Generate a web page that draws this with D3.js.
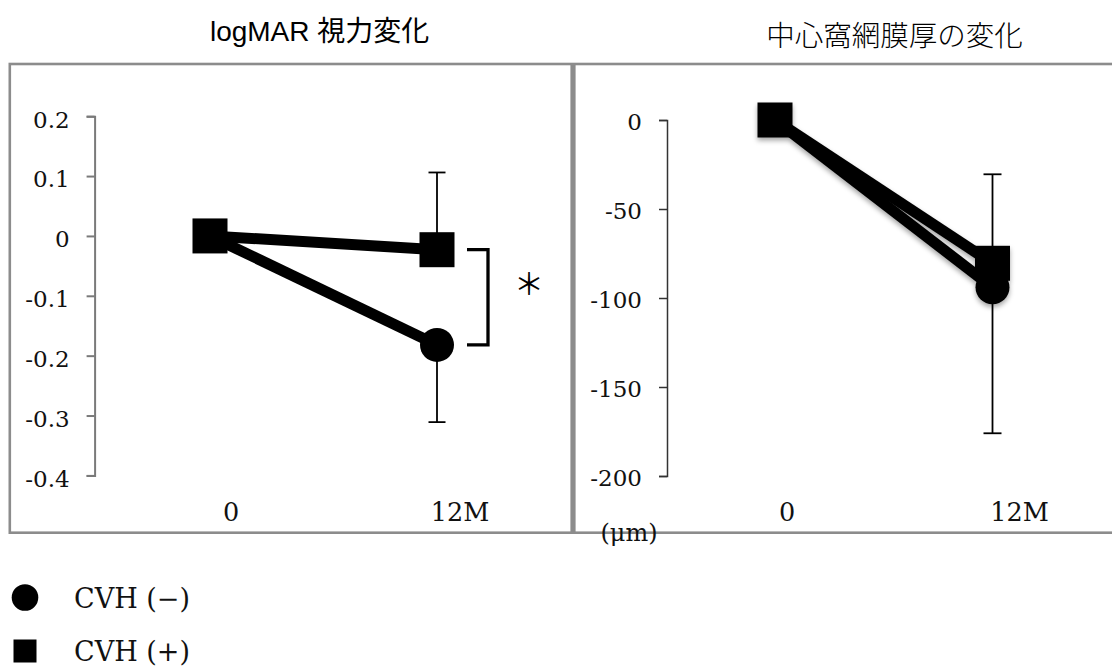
<!DOCTYPE html>
<html>
<head>
<meta charset="utf-8">
<script src="https://cdn.jsdelivr.net/npm/d3@7"></script>
<style>
    body { margin: 0; background: #fff; }
    svg { display: block; }
</style>
</head>
<body>
<svg id="chart"></svg>
<script>

// time points
var timeLabels = ["0", "12M"];

// logMAR change (left panel)
var vaTicks = [0.2, 0.1, 0, -0.1, -0.2, -0.3, -0.4];
var vaNoCVH = [0, -0.182];     // CVH (-) circle
var vaCVH = [0, -0.023];       // CVH (+) square
var vaNoCVHsd = [0, 0.129];    // lower bar
var vaCVHsd = [0, 0.129];      // upper bar

// central retinal thickness change (right panel)
var crtTicks = [0, -50, -100, -150, -200];
var crtNoCVH = [0, -94];
var crtCVH = [0, -80.5];
var crtNoCVHsd = [0, 82];
var crtCVHsd = [0, 50];

var legendLabels = ["CVH (\u2212)", "CVH (+)"];

var width = 1112,
    height = 666;

var svg = d3.select("#chart")
    .attr("width", width)
    .attr("height", height);

var defs = svg.append("defs");
var shadow = defs.append("filter").attr("id", "shadow")
    .attr("x", "-30%").attr("y", "-30%").attr("width", "160%").attr("height", "160%");
shadow.append("feDropShadow")
    .attr("dx", 0).attr("dy", 3)
    .attr("stdDeviation", 2.5)
    .attr("flood-color", "#000")
    .attr("flood-opacity", 0.35);

// panel frames
svg.append("rect")
    .attr("x", 9.8).attr("y", 64)
    .attr("width", 561.9).attr("height", 468.7)
    .attr("fill", "none")
    .attr("stroke", "#8c8c8c")
    .attr("stroke-width", 2.6);

svg.append("rect")
    .attr("x", 574.3).attr("y", 64)
    .attr("width", 560).attr("height", 468.7)
    .attr("fill", "none")
    .attr("stroke", "#8c8c8c")
    .attr("stroke-width", 2.6);

// titles
svg.append("text")
    .attr("x", 319.6).attr("y", 41)
    .attr("text-anchor", "middle")
    .style("font-family", "'Liberation Sans', 'Noto Sans CJK JP', sans-serif")
    .style("font-size", "28px")
    .text("logMAR 視力変化");

svg.append("text")
    .attr("x", 894.6).attr("y", 46)
    .attr("text-anchor", "middle")
    .style("font-family", "'Noto Sans CJK JP', sans-serif")
    .style("font-weight", 300)
    .style("font-size", "28.5px")
    .text("中心窩網膜厚の変化");

function drawPanel(opt) {
    var g = svg.append("g");

    var x = d3.scalePoint().domain(timeLabels).range(opt.xRange);
    var y = d3.scaleLinear().domain(opt.yDomain).range(opt.yRange);

    // y axis
    var axis = g.append("g")
        .attr("transform", "translate(" + opt.axisX + ",0)")
        .call(d3.axisLeft(y)
            .tickValues(opt.ticks)
            .tickSize(8)
            .tickPadding(17)
            .tickFormat(function (d) { return String(d); }));
    axis.attr("font-family", null).attr("font-size", null);
    axis.select(".domain").attr("stroke", opt.axisColor).attr("stroke-width", opt.axisWidth);
    axis.selectAll(".tick line").attr("stroke", opt.axisColor).attr("stroke-width", opt.axisWidth);
    axis.selectAll(".tick text")
        .attr("dy", opt.labelDy)
        .attr("fill", "#111")
        .style("font-family", "'DejaVu Serif', serif")
        .style("font-size", "23px");

    // x labels (no axis line)
    g.selectAll(".xlab")
        .data(timeLabels)
        .enter().append("text")
        .attr("class", "xlab")
        .attr("x", function (d, i) { return x(d) + opt.xLabelShift[i]; })
        .attr("y", 521)
        .attr("text-anchor", "middle")
        .style("font-family", "'DejaVu Serif', serif")
        .style("font-size", "25.5px")
        .attr("fill", "#111")
        .text(function (d) { return d; });

    var marks = g.append("g");
    if (opt.shadow) marks.attr("filter", "url(#shadow)");

    var line = d3.line()
        .x(function (d, i) { return x(timeLabels[i]); })
        .y(function (d) { return y(d); });

    // error bars: CVH(+) up, CVH(-) down
    var bars = [
        {v: opt.sq, sd: opt.sqSd, dir: 1},
        {v: opt.ci, sd: opt.ciSd, dir: -1}
    ];
    bars.forEach(function (b) {
        b.v.forEach(function (v, i) {
            if (!b.sd[i]) return;
            var xx = x(timeLabels[i]);
            var yEnd = y(v + b.dir * b.sd[i]);
            g.append("line")
                .attr("x1", xx).attr("x2", xx)
                .attr("y1", y(v)).attr("y2", yEnd)
                .attr("stroke", "#000").attr("stroke-width", 1.8);
            g.append("line")
                .attr("x1", xx - opt.cap).attr("x2", xx + opt.cap)
                .attr("y1", yEnd).attr("y2", yEnd)
                .attr("stroke", "#000").attr("stroke-width", 1.8);
        });
    });

    // lines
    marks.append("path").datum(opt.ci)
        .attr("d", line)
        .attr("fill", "none").attr("stroke", "#000").attr("stroke-width", 11);
    marks.append("path").datum(opt.sq)
        .attr("d", line)
        .attr("fill", "none").attr("stroke", "#000").attr("stroke-width", 11);

    // markers
    marks.selectAll(".dot")
        .data(opt.ci)
        .enter().append("circle")
        .attr("cx", function (d, i) { return x(timeLabels[i]); })
        .attr("cy", function (d) { return y(d); })
        .attr("r", 17)
        .attr("fill", "#000");

    marks.selectAll(".sq")
        .data(opt.sq)
        .enter().append("rect")
        .attr("x", function (d, i) { return x(timeLabels[i]) - 17.5; })
        .attr("y", function (d) { return y(d) - 17.5; })
        .attr("width", 35).attr("height", 35)
        .attr("fill", "#000");

    return {x: x, y: y, g: g};
}

var left = drawPanel({
    xRange: [210, 437],
    yDomain: [0.2, -0.4],
    yRange: [116.2, 475.4],
    axisX: 94.6,
    ticks: vaTicks,
    axisColor: "#7a7a7a",
    axisWidth: 2,
    labelDy: "0.47em",
    xLabelShift: [21, 23],
    sq: vaCVH, sqSd: vaCVHsd,
    ci: vaNoCVH, ciSd: vaNoCVHsd,
    cap: 8.5,
    shadow: false
});

var right = drawPanel({
    xRange: [775, 992.5],
    yDomain: [0, -200],
    yRange: [120, 476],
    axisX: 667,
    ticks: crtTicks,
    axisColor: "#333",
    axisWidth: 1.5,
    labelDy: "0.4em",
    xLabelShift: [12, 27],
    sq: crtCVH, sqSd: crtCVHsd,
    ci: crtNoCVH, ciSd: crtNoCVHsd,
    cap: 9,
    shadow: true
});

// significance bracket between the 12M points
var bx = left.x("12M");
var by1 = left.y(vaCVH[1]), by2 = left.y(vaNoCVH[1]);
left.g.append("path")
    .attr("d", "M" + (bx + 30) + "," + by1 + "H" + (bx + 51) + "V" + by2 + "H" + (bx + 30))
    .attr("fill", "none")
    .attr("stroke", "#000")
    .attr("stroke-width", 3.3);

left.g.append("text")
    .attr("x", bx + 92).attr("y", (by1 + by2) / 2 - 15)
    .attr("text-anchor", "middle")
    .attr("dominant-baseline", "central")
    .style("font-family", "'Noto Sans CJK JP', sans-serif")
    .style("font-size", "30px")
    .text("＊");

// unit label
svg.append("text")
    .attr("x", 629).attr("y", 541)
    .attr("text-anchor", "middle")
    .style("font-family", "'DejaVu Serif', serif")
    .style("font-size", "24px")
    .attr("fill", "#111")
    .text("(μm)");

// legend
var legend = svg.append("g");
legend.append("circle")
    .attr("cx", 25).attr("cy", 597.5).attr("r", 13.3)
    .attr("fill", "#000");
legend.append("rect")
    .attr("x", 13.5).attr("y", 639.5).attr("width", 23).attr("height", 23)
    .attr("fill", "#000");
legend.selectAll(".lt")
    .data(legendLabels)
    .enter().append("text")
    .attr("x", 74)
    .attr("y", function (d, i) { return [608, 661][i]; })
    .style("font-family", "'DejaVu Serif', serif")
    .style("font-size", "27px")
    .attr("fill", "#111")
    .text(function (d) { return d; });

</script>
</body>
</html>
